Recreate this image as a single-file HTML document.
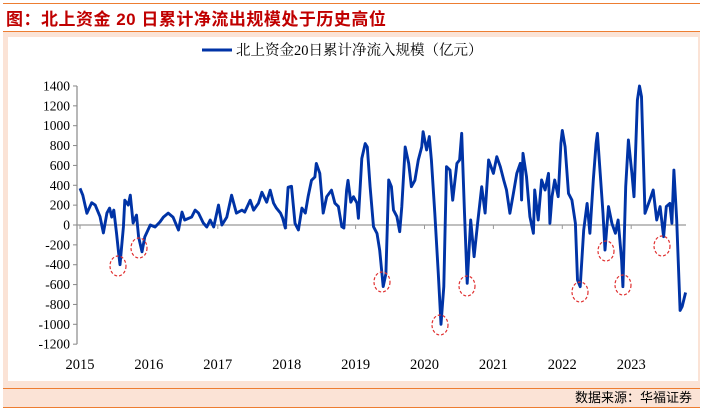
<!DOCTYPE html>
<html><head><meta charset="utf-8"><style>
body{margin:0;width:709px;height:413px;background:#fff;overflow:hidden;position:relative;font-family:"Liberation Serif","Noto Serif CJK SC",serif}
#title{position:absolute;left:6px;top:5px;font:bold 17px "Liberation Sans","Noto Sans CJK SC",sans-serif;color:#c00000;letter-spacing:0.5px}
#frame{position:absolute;left:3px;top:31px;width:697px;height:357px;background:#fbe3d6;border-top:1px solid #ed7d31}
#panel{position:absolute;left:8px;top:37px;width:690px;height:344px;background:#fff}
#foot{position:absolute;left:3px;top:388px;width:697px;height:18px;background:#fbe3d6;border-top:1px solid #ed7d31;border-bottom:1px solid #ed7d31;text-align:right;font:13px "Liberation Sans","Noto Sans CJK SC",sans-serif;line-height:18px}
#topline{position:absolute;left:3px;top:3px;width:697px;height:1px;background:#ed7d31}
svg{position:absolute;left:0;top:0}
</style></head><body>
<div id="topline"></div>
<div id="title">图：北上资金 20 日累计净流出规模处于历史高位</div>
<div id="frame"></div>
<div id="panel"></div>
<div id="foot"><span style="padding-right:8px">数据来源：华福证券</span></div>
<svg id="chart" width="709" height="413"></svg>
<script>
const yTicks=[1400,1200,1000,800,600,400,200,0,-200,-400,-600,-800,-1000,-1200];
const years=["2015","2016","2017","2018","2019","2020","2021","2022","2023"];
const dates=[2015.00,2015.04,2015.10,2015.17,2015.22,2015.29,2015.34,2015.39,2015.43,2015.46,2015.49,2015.53,2015.56,2015.58,2015.63,2015.65,2015.70,2015.73,2015.77,2015.82,2015.85,2015.90,2015.94,2016.02,2016.09,2016.16,2016.21,2016.28,2016.35,2016.43,2016.48,2016.52,2016.62,2016.67,2016.72,2016.79,2016.84,2016.89,2016.94,2017.01,2017.06,2017.13,2017.20,2017.27,2017.35,2017.39,2017.47,2017.52,2017.59,2017.64,2017.71,2017.76,2017.81,2017.85,2017.91,2017.94,2017.98,
2018.02,2018.07,2018.12,2018.17,2018.22,2018.27,2018.31,2018.36,2018.41,2018.43,2018.48,2018.53,2018.58,2018.65,2018.70,2018.75,2018.80,2018.83,2018.87,2018.89,2018.93,2018.97,2019.02,2019.04,2019.09,2019.14,2019.17,2019.21,2019.26,2019.31,2019.35,2019.40,2019.44,2019.48,2019.52,2019.55,2019.60,2019.64,2019.67,2019.72,2019.77,2019.81,2019.86,2019.91,2019.96,2019.98,2020.03,2020.07,2020.10,2020.15,2020.20,2020.24,2020.28,2020.32,2020.37,2020.41,2020.47,2020.51,2020.54,2020.58,2020.62,2020.67,2020.72,2020.77,2020.83,2020.88,2020.93,2021.00,
2021.05,2021.10,2021.15,2021.19,2021.24,2021.29,2021.34,2021.39,2021.41,2021.43,2021.48,2021.53,2021.58,2021.60,2021.65,2021.70,2021.75,2021.80,2021.82,2021.85,2021.89,2021.94,2021.98,2022.00,2022.04,2022.09,2022.14,2022.19,2022.22,2022.26,2022.31,2022.36,2022.40,2022.45,2022.49,2022.51,2022.55,2022.59,2022.62,2022.67,2022.72,2022.77,2022.81,2022.86,2022.88,2022.92,2022.96,2023.01,2023.04,2023.09,2023.12,2023.15,2023.20,2023.27,2023.32,2023.37,2023.42,2023.47,2023.51,2023.56,2023.59,2023.62,2023.66,2023.71,2023.74,2023.79];
const values=[370,300,118,225,200,85,-80,120,170,80,150,-80,-280,-400,-20,250,200,300,20,100,-120,-270,-120,0,-20,30,80,120,80,-50,130,50,80,150,120,20,-20,50,-20,200,0,80,300,120,150,130,250,150,220,330,230,350,220,170,120,70,-30,
380,390,17,-50,170,120,285,450,483,620,520,120,285,350,220,185,-17,-30,350,450,230,285,220,67,670,820,786,386,-17,-85,-255,-620,-490,453,386,150,85,-67,185,786,620,386,450,655,786,940,755,890,655,120,-490,-1000,-620,587,553,250,620,655,923,120,-587,50,-319,17,386,120,655,520,
688,587,453,352,118,318,520,620,252,722,486,84,-84,352,50,453,352,520,17,285,453,285,822,953,789,318,252,17,-554,-621,-50,218,-84,453,822,923,520,118,-252,185,17,-84,50,-352,-621,386,856,520,285,1259,1400,1292,118,252,352,50,185,-118,185,218,17,553,50,-860,-820,-680];
const NS="http://www.w3.org/2000/svg";
const svg=document.getElementById('chart');
const x=t=>80+(t-2015)*68.9;
const y=v=>225-v*0.0993;
function mk(tag,attrs){const e=document.createElementNS(NS,tag);for(const k in attrs)e.setAttribute(k,attrs[k]);svg.appendChild(e);return e;}
const ya=mk('line',{x1:77,y1:y(1400),x2:77,y2:y(-1200),stroke:'#888','stroke-width':1.2});


yTicks.forEach(v=>{
 const tk=mk('line',{x1:73,y1:y(v),x2:77,y2:y(v),stroke:'#888'});
 
 
 const tl=mk('text',{x:70,y:y(v)+4.5,'text-anchor':'end','font-size':13.5,fill:'#000','font-family':'Liberation Serif, serif'});
 tl.textContent=v;
 
 
});
const za=mk('line',{x1:77,y1:y(0),x2:686,y2:y(0),stroke:'#999','stroke-width':1.2});


years.forEach((yr,i)=>{
 const xx=x(2015+i);
 const tk=mk('line',{x1:xx,y1:y(0),x2:xx,y2:y(0)+4,stroke:'#999'});
 
 
 const tl=mk('text',{x:xx,y:369,'text-anchor':'middle','font-size':14.5,fill:'#000','font-family':'Liberation Serif, serif'});
 tl.textContent=yr;
 
 
});
const d=dates.map((t,i)=>(i?'L':'M')+x(t).toFixed(1)+','+y(values[i]).toFixed(1)).join('');
const ln=mk('path',{d:d,fill:'none',stroke:'#0033a6','stroke-width':2.9,'stroke-linejoin':'round'});


const circles=[[118,266],[139,248],[382,282],[440,325],[467,286],[580,292],[606,251],[623,285],[662,246]];
circles.forEach(c=>{
 const e=mk('ellipse',{cx:c[0],cy:c[1],rx:8,ry:10,fill:'none',stroke:'#e03030','stroke-width':1.2,'stroke-dasharray':'3,2'});
 
 
});
const lg=mk('line',{x1:202,y1:50,x2:232,y2:50,stroke:'#0033a6','stroke-width':3});


const lt=mk('text',{x:236,y:55,'font-size':14.5,fill:'#000','font-family':'Liberation Serif, Noto Serif CJK SC, serif'});
lt.textContent='北上资金20日累计净流入规模（亿元）';


</script>
</body></html>
